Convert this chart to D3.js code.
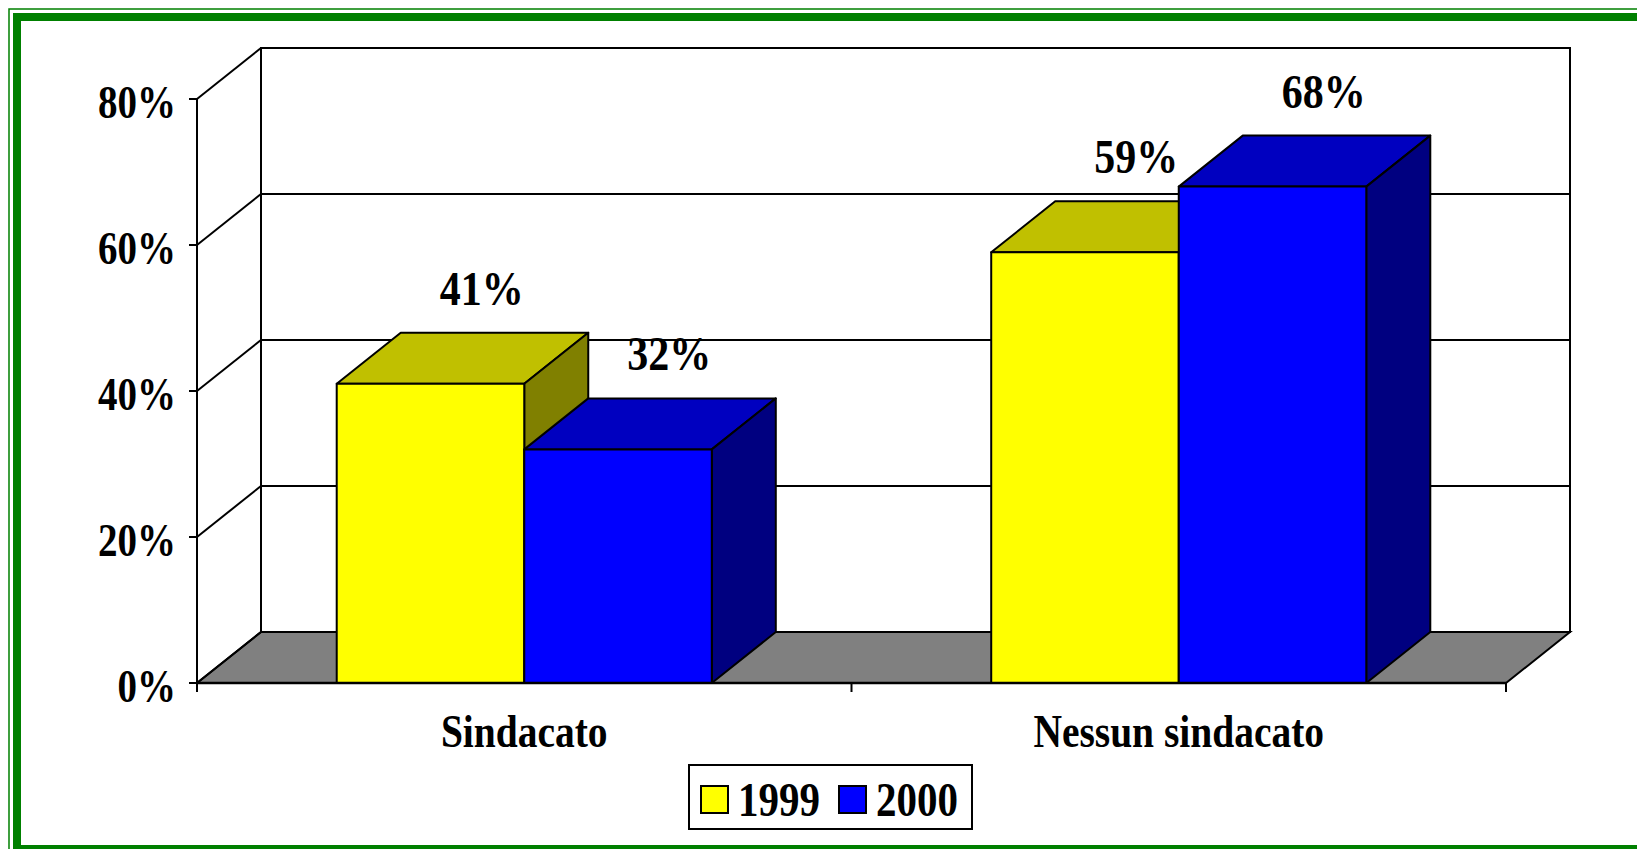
<!DOCTYPE html>
<html>
<head>
<meta charset="utf-8">
<script src="https://cdn.jsdelivr.net/npm/d3@7"></script>
<style>
  html, body { margin: 0; padding: 0; background: #fff; }
  svg { display: block; }
  text { font-family: "Liberation Serif", "Times New Roman", serif; font-weight: bold; fill: #000; }
</style>
</head>
<body>
<div id="viz"></div>
<script>
// chart data
var categories = ["Sindacato", "Nessun sindacato"]
var seriesNames = ["1999", "2000"]
var values1999 = [41, 59]
var values2000 = [32, 68]
var yTicks = [0, 20, 40, 60, 80]

var width = 1637,
  height = 849,
  depthX = 64,
  depthY = 51,
  stretch = 1.17

var faceColors = [
  { front: "#ffff00", top: "#c0c000", side: "#808000" },
  { front: "#0000ff", top: "#0000c0", side: "#000080" }
]

var svg = d3.select("#viz").append("svg")
  .attr("width", width)
  .attr("height", height)

// green frame
svg.append("rect")
  .attr("x", 9).attr("y", 9).attr("width", 1800).attr("height", 1000)
  .attr("fill", "none").attr("stroke", "#008000").attr("stroke-width", 1.5)
svg.append("rect")
  .attr("x", 17).attr("y", 17).attr("width", 1800).attr("height", 832)
  .attr("fill", "none").attr("stroke", "#008000").attr("stroke-width", 8)

var y = d3.scaleLinear().domain([0, 80]).range([683, 99])
var x0 = d3.scaleBand().domain(categories).range([197, 1506]).padding(0)
var x1 = d3.scaleBand().domain(seriesNames).range([0, x0.bandwidth()])
  .paddingInner(0).paddingOuter(0.745)

var left = x0.range()[0], right = x0.range()[1]
var base = y(0)

// text helper: Times-like text slightly stretched vertically like the original
function label(g, str, px, py, size, anchor) {
  return g.append("text")
    .attr("transform", "translate(" + px + "," + py + ") scale(1," + stretch + ")")
    .attr("text-anchor", anchor)
    .style("font-size", size + "px")
    .text(str)
}

var walls = svg.append("g").attr("fill", "none").attr("stroke", "#000").attr("stroke-width", 2)

// floor
walls.append("polygon")
  .attr("points", [[left, base], [right, base], [right + depthX, base - depthY], [left + depthX, base - depthY]].join(" "))
  .attr("fill", "#808080")

// back wall + side wall
walls.append("rect")
  .attr("x", left + depthX).attr("y", y(80) - depthY)
  .attr("width", right - left).attr("height", base - y(80))
walls.append("line")
  .attr("x1", left).attr("y1", y(80)).attr("x2", left).attr("y2", base)

// gridlines: back wall + diagonals on side wall
walls.selectAll(".grid").data(yTicks.filter(function(d) { return d > 0 && d < 80 }))
  .enter().append("line")
  .attr("x1", left + depthX).attr("x2", right + depthX)
  .attr("y1", function(d) { return y(d) - depthY })
  .attr("y2", function(d) { return y(d) - depthY })
walls.selectAll(".diag").data(yTicks)
  .enter().append("line")
  .attr("x1", left).attr("y1", function(d) { return y(d) })
  .attr("x2", left + depthX).attr("y2", function(d) { return y(d) - depthY })

// y ticks and labels
var axis = svg.append("g")
axis.selectAll(".tick").data(yTicks).enter().append("line")
  .attr("x1", left - 8).attr("x2", left)
  .attr("y1", function(d) { return y(d) }).attr("y2", function(d) { return y(d) })
  .attr("stroke", "#000").attr("stroke-width", 2)
yTicks.forEach(function(d) {
  label(axis, d + "%", left - 21, y(d) + 19, 39, "end")
})

// category ticks
var catTicks = [left, left + x0.bandwidth(), right]
axis.selectAll(".ctick").data(catTicks).enter().append("line")
  .attr("x1", function(d) { return d }).attr("x2", function(d) { return d })
  .attr("y1", base).attr("y2", base + 9)
  .attr("stroke", "#000").attr("stroke-width", 2)

categories.forEach(function(c) {
  label(axis, c, x0(c) + x0.bandwidth() / 2, 747, 39.5, "middle")
})

// bars
var bars = svg.append("g").attr("stroke", "#000").attr("stroke-width", 2).attr("stroke-linejoin", "round")
var allValues = [values1999, values2000]
categories.forEach(function(c, ci) {
  seriesNames.forEach(function(s, si) {
    var v = allValues[si][ci]
    var bx0 = x0(c) + x1(s), bx1 = bx0 + x1.bandwidth(), yt = y(v)
    var col = faceColors[si]
    bars.append("polygon")
      .attr("points", [[bx0, yt], [bx0 + depthX, yt - depthY], [bx1 + depthX, yt - depthY], [bx1, yt]].join(" "))
      .attr("fill", col.top)
    bars.append("polygon")
      .attr("points", [[bx1, yt], [bx1 + depthX, yt - depthY], [bx1 + depthX, base - depthY], [bx1, base]].join(" "))
      .attr("fill", col.side)
    bars.append("rect")
      .attr("x", bx0).attr("y", yt).attr("width", bx1 - bx0).attr("height", base - yt)
      .attr("fill", col.front)
  })
})

// front floor edge drawn on top
svg.append("line")
  .attr("x1", left).attr("x2", right).attr("y1", base).attr("y2", base)
  .attr("stroke", "#000").attr("stroke-width", 2.5)

// value labels
var labels = svg.append("g")
categories.forEach(function(c, ci) {
  seriesNames.forEach(function(s, si) {
    var v = allValues[si][ci]
    var cx = x0(c) + x1(s) + x1.bandwidth() / 2 + depthX * 0.8
    label(labels, v + "%", cx, y(v) - depthY - 28, 42, "middle")
  })
})

// legend
var legend = svg.append("g")
legend.append("rect")
  .attr("x", 689).attr("y", 765).attr("width", 283).attr("height", 64)
  .attr("fill", "#fff").attr("stroke", "#000").attr("stroke-width", 2)
var legendX = [701, 839]
seriesNames.forEach(function(s, si) {
  legend.append("rect")
    .attr("x", legendX[si]).attr("y", 786).attr("width", 27).attr("height", 27)
    .attr("fill", faceColors[si].front).attr("stroke", "#000").attr("stroke-width", 2)
  label(legend, s, legendX[si] + 37, 816, 41, "start")
})
</script>
</body>
</html>
